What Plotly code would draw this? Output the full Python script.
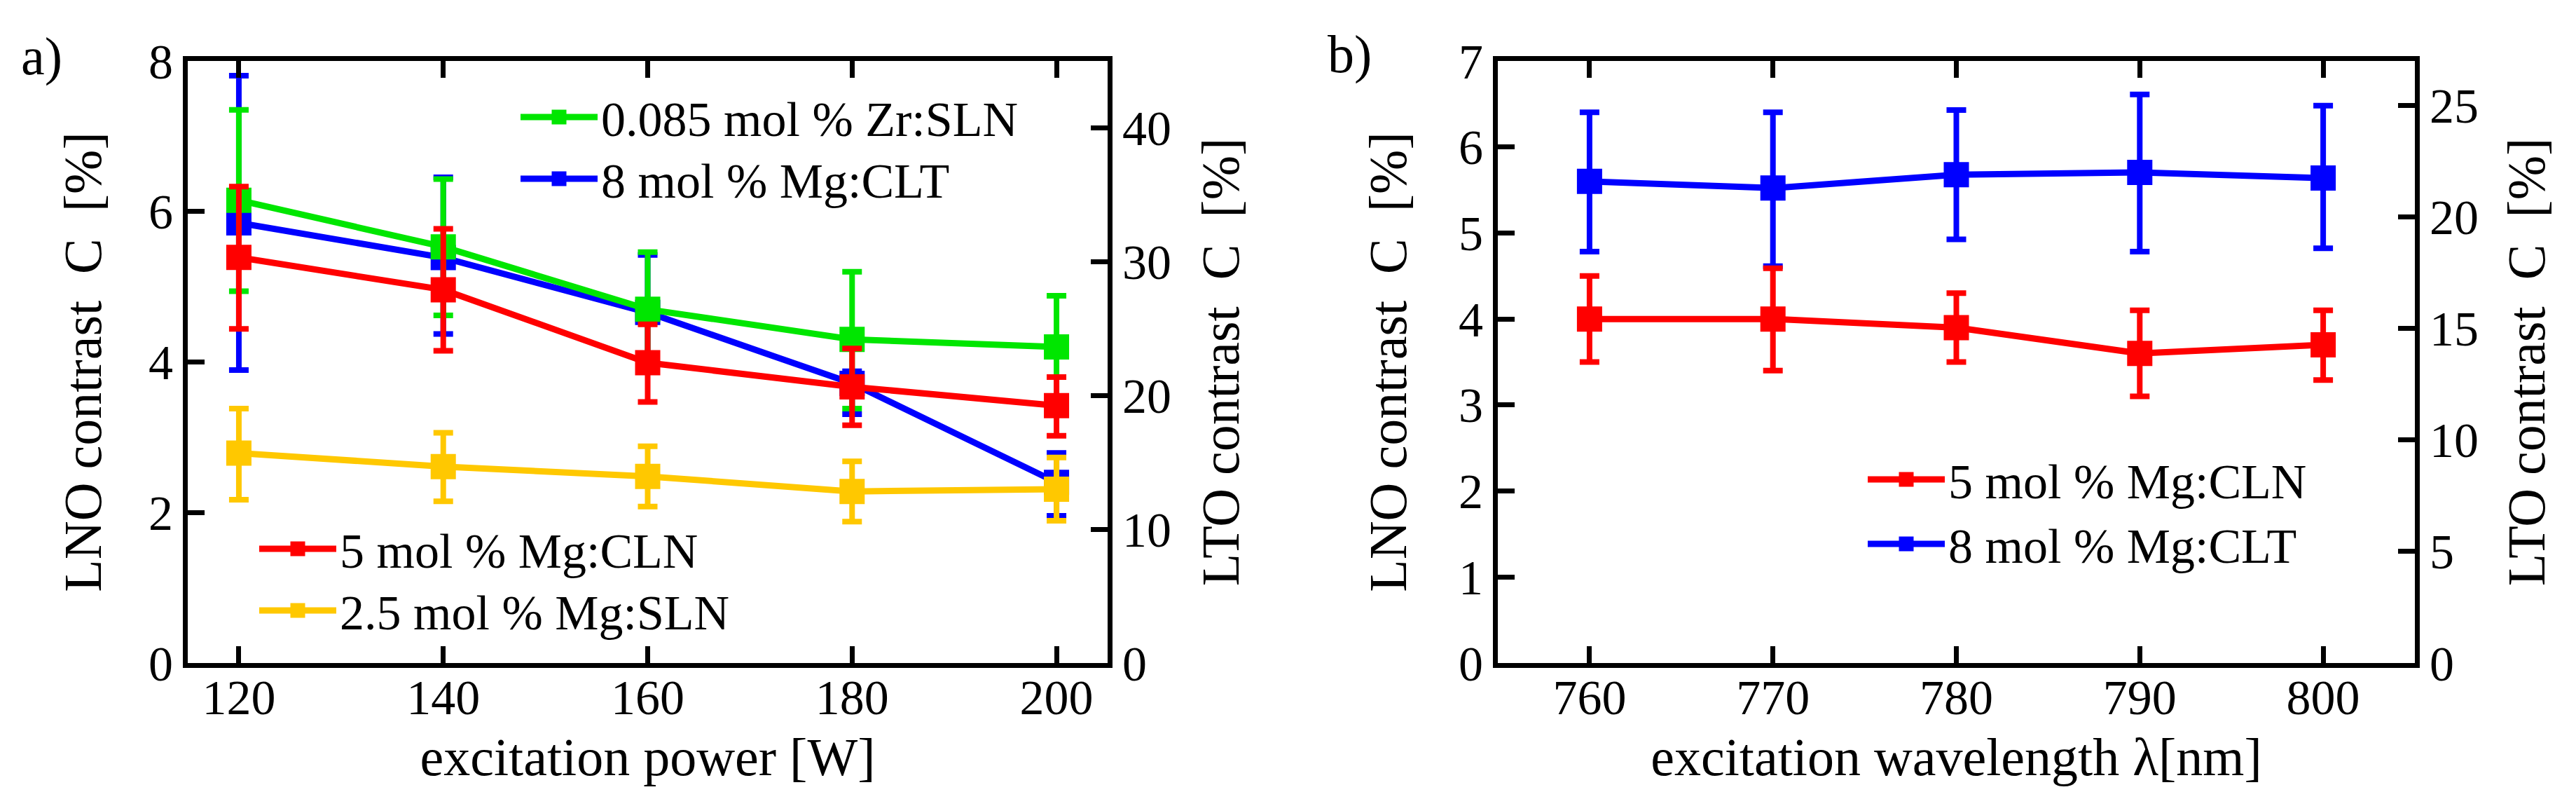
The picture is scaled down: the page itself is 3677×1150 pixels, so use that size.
import plotly.graph_objects as go

W, H = 3677, 1150
FONT = "Liberation Serif"

# ---------------- data: panel a (excitation power) ----------------
power_W = [120, 140, 160, 180, 200]

zr_sln_85 = [6.15, 5.53, 4.70, 4.30, 4.20]          # LNO axis
zr_sln_85_hi = [7.35, 6.43, 5.46, 5.20, 4.88]
zr_sln_85_lo = [4.94, 4.62, 3.95, 3.38, 3.52]

mg_cln_5 = [5.39, 4.96, 3.99, 3.67, 3.42]           # LNO axis
mg_cln_5_hi = [6.33, 5.77, 4.50, 4.18, 3.80]
mg_cln_5_lo = [4.44, 4.15, 3.47, 3.16, 3.02]

mg_sln_25 = [2.79, 2.61, 2.48, 2.28, 2.31]          # LNO axis
mg_sln_25_hi = [3.38, 3.06, 2.88, 2.68, 2.73]
mg_sln_25_lo = [2.17, 2.15, 2.08, 1.88, 1.89]

mg_clt_8_a = [32.9, 30.3, 26.2, 20.9, 13.5]          # LTO axis
mg_clt_8_a_hi = [43.9, 36.3, 30.5, 21.8, 15.7]
mg_clt_8_a_lo = [21.9, 24.6, 21.9, 18.6, 11.0]

# ---------------- data: panel b (excitation wavelength) ----------------
wavelength_nm = [760, 770, 780, 790, 800]

mg_cln_5_b = [4.00, 4.00, 3.90, 3.60, 3.70]          # LNO axis
mg_cln_5_b_hi = [4.50, 4.59, 4.30, 4.10, 4.10]
mg_cln_5_b_lo = [3.50, 3.40, 3.50, 3.10, 3.29]

mg_clt_8_b = [21.6, 21.3, 21.9, 22.0, 21.75]         # LTO axis
mg_clt_8_b_hi = [24.7, 24.7, 24.8, 25.5, 25.0]
mg_clt_8_b_lo = [18.45, 17.8, 19.0, 18.45, 18.6]

GREEN = "#00e600"
BLUE = "#0000ff"
RED = "#ff0000"
YELLOW = "#ffc800"

LINE_W = 9
MARKER = 31
MARKER_EDGE = 5


def err(vals, hi, lo, color):
    return dict(type="data", symmetric=False,
                array=[h - v for h, v in zip(hi, vals)],
                arrayminus=[v - l for v, l in zip(vals, lo)],
                color=color, thickness=8, width=14)


def trace(x, y, hi, lo, color, name, xa, ya, legend):
    return go.Scatter(
        x=x, y=y, name=name, mode="lines+markers",
        line=dict(color=color, width=LINE_W),
        marker=dict(symbol="square", size=MARKER, color=color,
                    line=dict(color=color, width=MARKER_EDGE)),
        error_y=err(y, hi, lo, color),
        xaxis=xa, yaxis=ya, legend=legend,
    )


fig = go.Figure()
# panel a: LTO series on base (right) axis so LNO series draw on top
fig.add_trace(trace(power_W, mg_clt_8_a, mg_clt_8_a_hi, mg_clt_8_a_lo, BLUE,
                    "8 mol % Mg:CLT", "x", "y", "legend2"))
fig.add_trace(trace(power_W, zr_sln_85, zr_sln_85_hi, zr_sln_85_lo, GREEN,
                    "0.085 mol % Zr:SLN", "x", "y2", "legend"))
fig.add_trace(trace(power_W, mg_sln_25, mg_sln_25_hi, mg_sln_25_lo, YELLOW,
                    "2.5 mol % Mg:SLN", "x", "y2", "legend4"))
fig.add_trace(trace(power_W, mg_cln_5, mg_cln_5_hi, mg_cln_5_lo, RED,
                    "5 mol % Mg:CLN", "x", "y2", "legend3"))
# panel b
fig.add_trace(trace(wavelength_nm, mg_clt_8_b, mg_clt_8_b_hi, mg_clt_8_b_lo, BLUE,
                    "8 mol % Mg:CLT", "x2", "y3", "legend6"))
fig.add_trace(trace(wavelength_nm, mg_cln_5_b, mg_cln_5_b_hi, mg_cln_5_b_lo, RED,
                    "5 mol % Mg:CLN", "x2", "y4", "legend5"))

dom_y = [1 - 938 / H, 1 - 79 / H]
dom_xa = [260 / W, 1573 / W]
dom_xb = [2130 / W, 3439 / W]

tickfont = dict(family=FONT, size=70, color="black")
titlefont = dict(family=FONT, size=76, color="black")
axis_common = dict(showline=True, linecolor="black", linewidth=7,
                   ticks="inside", ticklen=24, tickwidth=7, tickcolor="black",
                   showgrid=False, zeroline=False, tickfont=tickfont,
                   automargin=False)

legfont = dict(family=FONT, size=70, color="black")


def leg(xpx, ypx):
    return dict(x=xpx / W, y=1 - ypx / H, font=legfont,
                bgcolor="rgba(0,0,0,0)", borderwidth=0, itemwidth=110,
                xanchor="left", yanchor="middle", itemsizing="trace")


LEG_X_OFF = 130
LEG_DY = -10
fig.update_layout(
    width=W, height=H,
    margin=dict(l=0, r=0, t=0, b=0),
    paper_bgcolor="white", plot_bgcolor="white",
    font=dict(family=FONT, color="black"),
    showlegend=True,
    xaxis=dict(domain=dom_xa, anchor="y", range=[115, 205],
               tickvals=power_W, mirror="ticks", ticklabelstandoff=-18,
               title=dict(text="excitation power [W]", font=titlefont, standoff=22),
               **axis_common),
    yaxis=dict(domain=dom_y, anchor="x", side="right", range=[0, 45],
               tickvals=[0, 10, 20, 30, 40],
               title=dict(text="LTO contrast  C  [%]", font=titlefont, standoff=46),
               **axis_common),
    yaxis2=dict(overlaying="y", anchor="x", side="left", range=[0, 8],
                tickvals=[0, 2, 4, 6, 8],
                title=dict(text="LNO contrast  C  [%]", font=titlefont, standoff=45),
                **axis_common),
    xaxis2=dict(domain=dom_xb, anchor="y3", range=[755, 805],
                tickvals=wavelength_nm, mirror="ticks", ticklabelstandoff=-18,
                title=dict(text="excitation wavelength λ[nm]", font=titlefont, standoff=22),
                **axis_common),
    yaxis3=dict(domain=dom_y, anchor="x2", side="right", range=[0, 27],
                tickvals=[0, 5, 10, 15, 20, 25],
                title=dict(text="LTO contrast  C  [%]", font=titlefont, standoff=44),
                **axis_common),
    yaxis4=dict(overlaying="y3", anchor="x2", side="left", range=[0, 7],
                tickvals=[0, 1, 2, 3, 4, 5, 6, 7],
                title=dict(text="LNO contrast  C  [%]", font=titlefont, standoff=52),
                **axis_common),
    legend=leg(860 - LEG_X_OFF, 169 + LEG_DY),
    legend2=leg(860 - LEG_X_OFF, 257 + LEG_DY),
    legend3=leg(487 - LEG_X_OFF, 785 + LEG_DY),
    legend4=leg(487 - LEG_X_OFF, 873 + LEG_DY),
    legend5=leg(2783 - LEG_X_OFF, 686 + LEG_DY),
    legend6=leg(2783 - LEG_X_OFF, 778 + LEG_DY),
    annotations=[
        dict(text="a)", x=20 / W, y=1 - 73 / H, xref="paper", yref="paper",
             xanchor="left", yanchor="middle", showarrow=False,
             font=dict(family=FONT, size=76, color="black")),
        dict(text="b)", x=1885 / W, y=1 - 70 / H, xref="paper", yref="paper",
             xanchor="left", yanchor="middle", showarrow=False,
             font=dict(family=FONT, size=76, color="black")),
    ],
)

fig.write_html("out.html")
